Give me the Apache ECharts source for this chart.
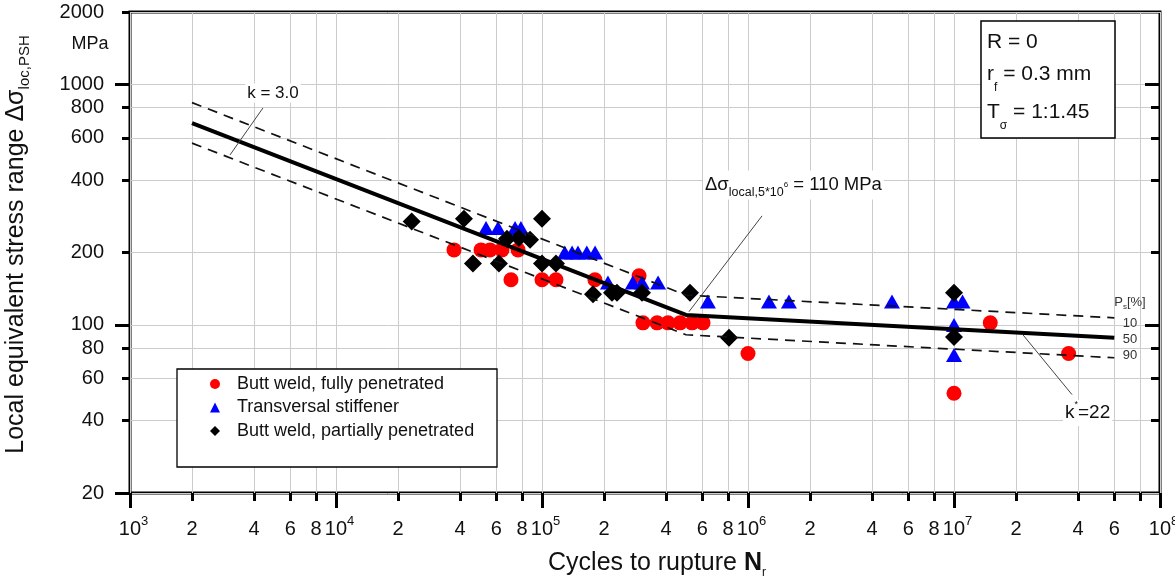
<!DOCTYPE html>
<html><head><meta charset="utf-8">
<script src="https://cdn.jsdelivr.net/npm/echarts@6/dist/echarts.min.js"></script>
<style>html,body{margin:0;padding:0;background:#fff}#c{width:1175px;height:580px}</style>
</head><body><div id="c"></div>
<script>
// ---------- data ----------
const seriesNames = ['Butt weld, fully penetrated', 'Transversal stiffener', 'Butt weld, partially penetrated'];
const buttFull = [[37400,205],[50600,205],[55900,205],[63900,205],[76500,205],[70700,154],[100000,154],[116900,154],[180700,154],[296000,160],[309000,102],[362000,102],[409000,102],[468000,102],[535000,102],[605000,102],[1000000,76],[10000000,52],[15000000,102],[36000000,76]];
const stiffener = [[53500,253],[61200,253],[74000,253],[79000,253],[129000,200],[140000,200],[149500,200],[165000,200],[181000,200],[209000,150],[276000,150],[306000,150],[366000,150],[639000,125],[1264000,125],[1580000,125],[5000000,125],[10000000,125],[11000000,125],[10000000,100],[10000000,75]];
const buttPartial = [[23300,269],[41800,276],[46200,180],[61800,180],[67600,228],[77300,230],[87500,226],[100000,276],[100000,180],[116900,180],[176800,134],[218700,136],[231300,136],[305800,136],[523000,136],[808600,88.5],[10000000,136],[10000000,89]];
const meanLine = [[2000,690],[500000,110],[60000000,88.5]];
const upperLine = [[2000,840],[500000,133],[60000000,107]];
const lowerLine = [[2000,570],[500000,91],[60000000,73]];
const leaderK3 = [[4420,798],[3058,509]];
const leaderKnee = [[1170000,284],[517000,113.5]];
const leaderKstar = [[21600000,91],[37400000,51.3]];

const xMajorTicks = [1e3,1e4,1e5,1e6,1e7,1e8];
const xMinorTicks = [2e3,4e3,6e3,8e3,2e4,4e4,6e4,8e4,2e5,4e5,6e5,8e5,2e6,4e6,6e6,8e6,2e7,4e7,6e7,8e7];
const xLabelValues = [1e3,2e3,4e3,6e3,8e3,1e4,2e4,4e4,6e4,8e4,1e5,2e5,4e5,6e5,8e5,1e6,2e6,4e6,6e6,8e6,1e7,2e7,4e7,6e7,8e7,1e8];
const xLabelTexts = ['10^3','2','4','6','8','10^4','2','4','6','8','10^5','2','4','6','8','10^6','2','4','6','8','10^7','2','4','6','8','10^8'];
const yMajorTicks = [20,100,1000];
const yMinorTicks = [40,60,80,200,400,600,800,2000];
const yLabelValues = [20,40,60,80,100,200,400,600,800,1000,2000];
const yLabelTexts = ['20','40','60','80','100','200','400','600','800','1000','2000'];
const yRightMajor = [100,1000];
const yRightMinor = [40,60,80,200,400,600,800];

// ---------- helpers ----------
const FONT = '"Liberation Sans", Arial, Helvetica, sans-serif';
function matchIdx(values, v) {
  for (let i = 0; i < values.length; i++) {
    if (Math.abs(Math.log10(values[i]) - Math.log10(v)) < 1e-4) return i;
  }
  return -1;
}
const gridCol = '#cccccc';
const tickStyle = {color:'#000', width:3};

const chart = echarts.init(document.getElementById('c'));
const baseX = {type:'log', logBase:10, min:1e3, max:1e8, position:'bottom', gridIndex:0};
const baseY = {type:'log', logBase:10, min:20, max:2000, gridIndex:0};

const option = {
  animation:false,
  backgroundColor:'#fff',
  textStyle:{fontFamily:FONT},
  grid:{left:130, right:15, top:12, bottom:87, show:true, borderColor:'#000', borderWidth:3, containLabel:false, outerBoundsMode:'none'},
  legend:{
    data:seriesNames, orient:'vertical', left:210, top:375, padding:0,
    itemWidth:10, itemHeight:10, itemGap:5.5, selectedMode:false, z:5,
    textStyle:{fontSize:18, color:'#111', fontFamily:FONT, padding:[0,0,0,12]}
  },
  xAxis:[
    Object.assign({}, baseX, {
      axisLine:{show:false, onZero:false},
      axisTick:{show:true, customValues:xMajorTicks, length:15, lineStyle:tickStyle},
      axisLabel:{customValues:xLabelValues, margin:22, color:'#111', fontFamily:FONT, showMinLabel:true, showMaxLabel:true,
        formatter:function(v){ const i = matchIdx(xLabelValues, v); if (i < 0) return ''; const t = xLabelTexts[i];
          if (t.indexOf('^') >= 0) { const p = t.split('^'); return '{p|}{b|' + p[0] + '}{s|' + p[1] + '}'; }
          return '{b|' + t + '}'; },
        rich:{ b:{fontSize:20, lineHeight:28, verticalAlign:'middle', color:'#111', fontFamily:FONT},
               s:{fontSize:13, lineHeight:13, verticalAlign:'top', color:'#111', fontFamily:FONT},
               p:{width:7, lineHeight:28} }
      },
      splitLine:{show:true, lineStyle:{color:gridCol, width:1}},
      name:'Cycles to rupture {n|N}{r|r}', nameLocation:'middle', nameGap:54,
      nameTextStyle:{fontSize:25, lineHeight:32, color:'#111', fontFamily:FONT, padding:[0,0,0,24],
        rich:{ n:{fontSize:25, fontWeight:'bold', lineHeight:32, color:'#111', fontFamily:FONT},
               r:{fontSize:12, lineHeight:14, verticalAlign:'bottom', color:'#111', fontFamily:FONT} } }
    }),
    Object.assign({}, baseX, {
      axisLine:{show:false, onZero:false},
      axisTick:{show:true, customValues:xMinorTicks, length:8, lineStyle:tickStyle},
      axisLabel:{show:false},
      splitLine:{show:true, lineStyle:{color:gridCol, width:1}}
    })
  ],
  yAxis:[
    Object.assign({}, baseY, {
      position:'left',
      axisLine:{show:false, onZero:false},
      axisTick:{show:true, customValues:yMajorTicks, length:15, lineStyle:tickStyle},
      axisLabel:{customValues:yLabelValues, margin:26, fontSize:20, color:'#111', fontFamily:FONT, showMinLabel:true, showMaxLabel:true,
        formatter:function(v){ const i = matchIdx(yLabelValues, v); return i < 0 ? '' : yLabelTexts[i]; } },
      splitLine:{show:true, lineStyle:{color:gridCol, width:1}},
      name:'Local equivalent stress range Δσ{sub|loc,PSH}', nameLocation:'middle', nameRotate:90, nameGap:98,
      nameTextStyle:{fontSize:25, lineHeight:32, color:'#111', fontFamily:FONT, padding:[0,0,0,16],
        rich:{ sub:{fontSize:15, lineHeight:15, verticalAlign:'bottom', color:'#111', fontFamily:FONT} } }
    }),
    Object.assign({}, baseY, {
      position:'left',
      axisLine:{show:false, onZero:false},
      axisTick:{show:true, customValues:yMinorTicks, length:8, lineStyle:tickStyle},
      axisLabel:{show:false},
      splitLine:{show:true, lineStyle:{color:gridCol, width:1}}
    }),
    Object.assign({}, baseY, {
      position:'right',
      axisLine:{show:false, onZero:false},
      axisTick:{show:true, inside:true, customValues:yRightMajor, length:15, lineStyle:tickStyle},
      axisLabel:{show:false}, splitLine:{show:false}
    }),
    Object.assign({}, baseY, {
      position:'right',
      axisLine:{show:false, onZero:false},
      axisTick:{show:true, inside:true, customValues:yRightMinor, length:9, lineStyle:tickStyle},
      axisLabel:{show:false}, splitLine:{show:false}
    })
  ],
  series:[
    {name:seriesNames[0], type:'scatter', data:buttFull, symbol:'circle', symbolSize:15, itemStyle:{color:'#ff0000', opacity:1}, z:2, silent:true},
    {name:seriesNames[1], type:'scatter', data:stiffener, symbol:'triangle', symbolSize:[16,14], itemStyle:{color:'#0000ff', opacity:1}, z:2, silent:true},
    {name:seriesNames[2], type:'scatter', data:buttPartial, symbol:'diamond', symbolSize:18, itemStyle:{color:'#000', opacity:1}, z:2, silent:true},
    {name:'mean', type:'line', data:meanLine, symbol:'none', lineStyle:{color:'#000', width:4}, z:3, silent:true},
    {name:'upper', type:'line', data:upperLine, symbol:'none', lineStyle:{color:'#111', width:1.7, type:[10,7]}, z:3, silent:true},
    {name:'lower', type:'line', data:lowerLine, symbol:'none', lineStyle:{color:'#111', width:1.7, type:[10,7]}, z:3, silent:true},
    {name:'leader1', type:'line', data:leaderK3, symbol:'none', lineStyle:{color:'#444', width:1}, z:3, silent:true},
    {name:'leader2', type:'line', data:leaderKnee, symbol:'none', lineStyle:{color:'#444', width:1}, z:3, silent:true},
    {name:'leader3', type:'line', data:leaderKstar, symbol:'none', lineStyle:{color:'#444', width:1}, z:3, silent:true}
  ],
  graphic:[
    {type:'rect', z:3, shape:{x:177, y:369, width:320, height:98}, style:{fill:'#fff', stroke:'#000', lineWidth:1.3}},
    {type:'rect', z:3, shape:{x:981, y:21, width:134, height:117}, style:{fill:'#fff', stroke:'#000', lineWidth:1.5}},
    {type:'text', z:10, x:987, y:42, style:{text:'R = 0', fontSize:21, fontFamily:FONT, fill:'#111', verticalAlign:'middle'}},
    {type:'text', z:10, x:987, y:74, style:{text:'{a|r}{s|f}{a| = 0.3 mm}', verticalAlign:'middle', fill:'#111',
      rich:{a:{fontSize:21, lineHeight:40, verticalAlign:'middle', fontFamily:FONT, fill:'#111'}, s:{fontSize:12, lineHeight:12, verticalAlign:'bottom', fontFamily:FONT, fill:'#111'}}}},
    {type:'text', z:10, x:987, y:112, style:{text:'{a|T}{s|σ}{a| = 1:1.45}', verticalAlign:'middle', fill:'#111',
      rich:{a:{fontSize:21, lineHeight:40, verticalAlign:'middle', fontFamily:FONT, fill:'#111'}, s:{fontSize:12, lineHeight:12, verticalAlign:'bottom', fontFamily:FONT, fill:'#111'}}}},
    {type:'text', z:10, x:90, y:44, style:{text:'MPa', fontSize:18, fontFamily:FONT, fill:'#111', align:'center', verticalAlign:'middle'}},
    {type:'text', z:10, x:273, y:93, style:{text:'k = 3.0', fontSize:17, fontFamily:FONT, fill:'#111', align:'center', verticalAlign:'middle', backgroundColor:'#fff', padding:[1,2]}},
    {type:'text', z:10, x:703, y:185, style:{text:'{a|Δσ}{s|local,5*10}{t|6}{a| = 110 MPa}', verticalAlign:'middle', backgroundColor:'#fff', padding:[0,2],
      rich:{a:{fontSize:18.5, lineHeight:29, verticalAlign:'middle', fontFamily:FONT, fill:'#111'},
            s:{fontSize:12.5, lineHeight:12, verticalAlign:'bottom', fontFamily:FONT, fill:'#111'},
            t:{fontSize:8, lineHeight:8, verticalAlign:'middle', fontFamily:FONT, fill:'#111'}}}},
    {type:'text', z:10, x:1063, y:413, style:{text:'{a|k}{p|*}{a|=22}', verticalAlign:'middle', backgroundColor:'#fff', padding:[0,2],
      rich:{a:{fontSize:19, lineHeight:26, verticalAlign:'middle', fontFamily:FONT, fill:'#111'},
            p:{fontSize:9, lineHeight:10, verticalAlign:'top', fontFamily:FONT, fill:'#111'}}}},
    {type:'text', z:10, x:1130, y:302, style:{text:'{a|P}{s|s}{a|[%]}', align:'center', verticalAlign:'middle',
      rich:{a:{fontSize:13, lineHeight:18, verticalAlign:'middle', fontFamily:FONT, fill:'#333'},
            s:{fontSize:8, lineHeight:8, verticalAlign:'bottom', fontFamily:FONT, fill:'#333'}}}},
    {type:'text', z:10, x:1130, y:323, style:{text:'10', fontSize:13, fontFamily:FONT, fill:'#333', align:'center', verticalAlign:'middle'}},
    {type:'text', z:10, x:1130, y:339, style:{text:'50', fontSize:13, fontFamily:FONT, fill:'#333', align:'center', verticalAlign:'middle'}},
    {type:'text', z:10, x:1130, y:355, style:{text:'90', fontSize:13, fontFamily:FONT, fill:'#333', align:'center', verticalAlign:'middle'}}
  ]
};
chart.setOption(option);
</script></body></html>
